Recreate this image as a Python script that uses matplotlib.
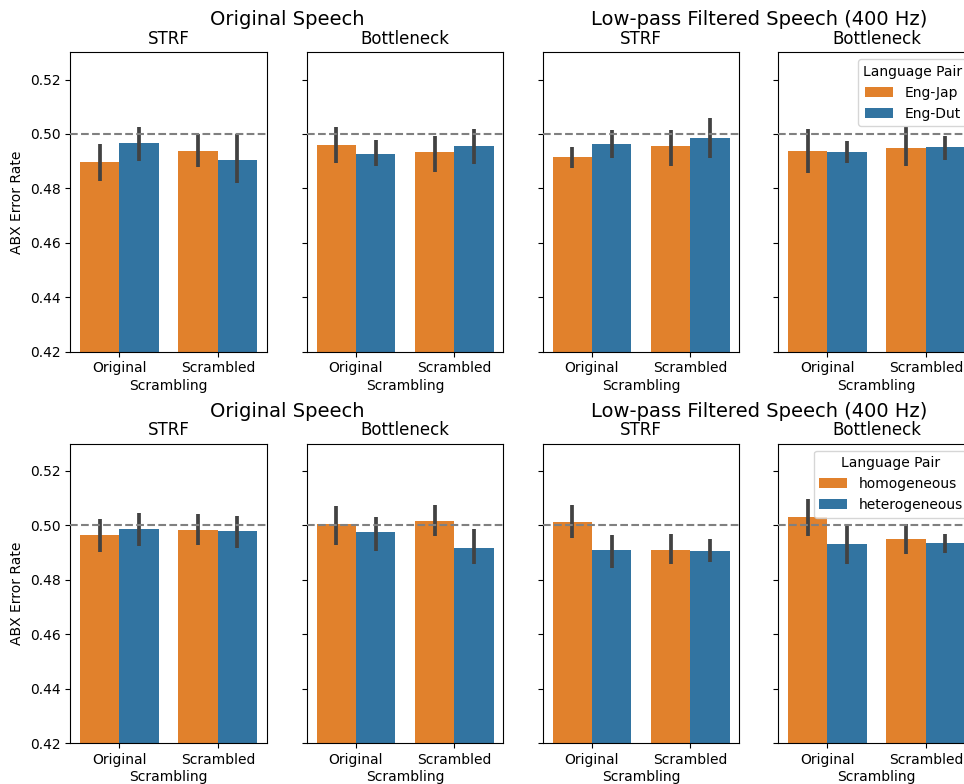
import matplotlib
matplotlib.use("Agg")
import matplotlib.pyplot as plt
import numpy as np

# Categories
scrambling = ["Original", "Scrambled"]
models = ["STRF", "Bottleneck"]
conditions = ["Original Speech", "Low-pass Filtered Speech (400 Hz)"]
lang_hues = ["Eng-Jap", "Eng-Dut"]
homog_hues = ["homogeneous", "heterogeneous"]

# Mean ABX error rate, indexed [hue][scrambling]
orig_strf_lang = [[0.4897, 0.4938], [0.4967, 0.4905]]
orig_bneck_lang = [[0.4960, 0.4934], [0.4927, 0.4956]]
lp_strf_lang = [[0.4916, 0.4956], [0.4963, 0.4986]]
lp_bneck_lang = [[0.4938, 0.4949], [0.4934, 0.4952]]

orig_strf_homog = [[0.4965, 0.4983], [0.4987, 0.4980]]
orig_bneck_homog = [[0.5005, 0.5015], [0.4976, 0.4917]]
lp_strf_homog = [[0.5013, 0.4910], [0.4910, 0.4906]]
lp_bneck_homog = [[0.5031, 0.4950], [0.4932, 0.4936]]

# 95% CI (low, high), indexed [hue][scrambling]
orig_strf_lang_ci = [[(0.4826, 0.4964), (0.4877, 0.4998)], [(0.4902, 0.5026), (0.4821, 0.5001)]]
orig_bneck_lang_ci = [[(0.4892, 0.5027), (0.4862, 0.4994)], [(0.4881, 0.4976), (0.4890, 0.5017)]]
lp_strf_lang_ci = [[(0.4874, 0.4952), (0.4881, 0.5015)], [(0.4913, 0.5015), (0.4911, 0.5059)]]
lp_bneck_lang_ci = [[(0.4858, 0.5017), (0.4883, 0.5027)], [(0.4894, 0.4973), (0.4905, 0.4994)]]

orig_strf_homog_ci = [[(0.4903, 0.5024), (0.4927, 0.5043)], [(0.4926, 0.5047), (0.4918, 0.5035)]]
orig_bneck_homog_ci = [[(0.4928, 0.5073), (0.4960, 0.5076)], [(0.4907, 0.5030), (0.4857, 0.4988)]]
lp_strf_homog_ci = [[(0.4954, 0.5075), (0.4860, 0.4967)], [(0.4845, 0.4965), (0.4866, 0.4950)]]
lp_bneck_homog_ci = [[(0.4961, 0.5096), (0.4894, 0.5007)], [(0.4860, 0.4998), (0.4899, 0.4969)]]

yticks = [0.42, 0.44, 0.46, 0.48, 0.50, 0.52]

rows = [
    (lang_hues, [orig_strf_lang, orig_bneck_lang, lp_strf_lang, lp_bneck_lang],
     [orig_strf_lang_ci, orig_bneck_lang_ci, lp_strf_lang_ci, lp_bneck_lang_ci]),
    (homog_hues, [orig_strf_homog, orig_bneck_homog, lp_strf_homog, lp_bneck_homog],
     [orig_strf_homog_ci, orig_bneck_homog_ci, lp_strf_homog_ci, lp_bneck_homog_ci]),
]

colors = ["#e1812c", "#3274a1"]
W, H = 964, 784
fig = plt.figure(figsize=(W / 100, H / 100), dpi=100)

col_left = [70.3, 306.7, 542.7, 778.3]
ax_w = 196.7
row_top = [52.3, 443.7]
row_bot = [351.7, 743.3]
group_baseline = [25.0, 416.7]


def px_rect(x0, y0, x1, y1):
    return [x0 / W, 1 - y1 / H, (x1 - x0) / W, (y1 - y0) / H]


for r, (hues, panels, cis) in enumerate(rows):
    axes = []
    for c in range(4):
        ax = fig.add_axes(px_rect(col_left[c], row_top[r], col_left[c] + ax_w, row_bot[r]))
        axes.append(ax)
        means = panels[c]
        ci = cis[c]
        x = np.arange(len(scrambling))
        bw = 0.4
        for h in range(len(hues)):
            xpos = x - 0.2 + h * bw
            ax.bar(xpos, means[h], width=bw, color=colors[h], label=hues[h], zorder=2)
            for i in range(len(scrambling)):
                lo, hi = ci[h][i]
                ax.plot([xpos[i], xpos[i]], [lo, hi], color=".26", lw=2.7,
                        solid_capstyle="butt", zorder=3)
        ax.axhline(0.5, color="gray", ls="--", lw=1.5, zorder=4)
        ax.set_xlim(-0.5, 1.5)
        ax.set_ylim(0.42, 0.53)
        ax.set_yticks(yticks)
        ax.set_xticks(x)
        ax.set_xticklabels(scrambling)
        ax.set_xlabel("Scrambling", labelpad=2.5)
        ax.set_title(models[c % 2], fontsize=12)
        if c == 0:
            ax.set_yticklabels([f"{t:.2f}" for t in yticks])
            ax.set_ylabel("ABX Error Rate")
        else:
            ax.set_yticklabels([])
    axes[3].legend(title="Language Pair", loc="upper right")
    for g in range(2):
        xl = col_left[2 * g]
        xr = col_left[2 * g + 1] + ax_w
        fig.text((xl + xr) / 2 / W, 1 - group_baseline[r] / H, conditions[g],
                 ha="center", va="baseline", fontsize=14)

fig.savefig("out.png", dpi=100)
